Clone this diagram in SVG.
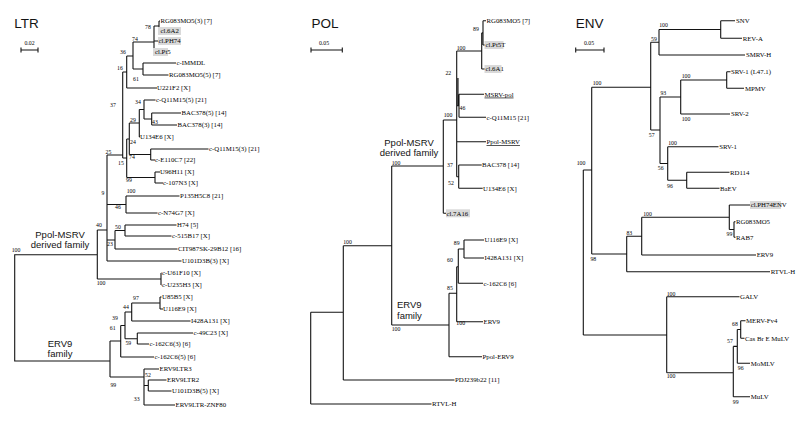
<svg xmlns="http://www.w3.org/2000/svg" width="800" height="423" viewBox="0 0 800 423">
<style>
.br{stroke:#111;stroke-width:1.1;fill:none}
.lf{font-family:"Liberation Serif","Times New Roman",serif;font-size:6.8px;fill:#000}
.bs{font-family:"Liberation Serif","Times New Roman",serif;font-size:5.8px;fill:#000;text-anchor:middle}
.tt{font-family:"Liberation Sans",Arial,sans-serif;font-size:13.5px;fill:#111;text-anchor:middle}
.fam{font-family:"Liberation Sans",Arial,sans-serif;font-size:9.5px;fill:#111;text-anchor:middle}
.hl{fill:#d9d9d9}
.ul{text-decoration:underline}
</style>
<rect width="800" height="423" fill="#fff"/>
<g opacity="0.99">
<g id="connectors">
<!-- LTR -->
<path class="br" d="M21 50H38M21 47.5V52.5M38 47.5V52.5"/>
<path class="br" d="M97.3 254.7H14.7V361H110M97.3 230V279M97.3 230H107M97.3 279H161M107 155V261M107 155H122.7M107 204.5H126M107 240H115M107 261H181.5
M122.7 72V158M122.7 72H126.7M122.7 158H126.7M126.7 56V88M126.7 56H133M126.7 88H157M133 42V69M133 42H154M133 69H143
M154 26V52M154 26H159M154 41H158M154 52H155M159 21V31M159 21H160M159 31H160M143 63V75M143 63H176M143 75H168.5
M126.7 139V177.5M126.7 139H129.3M126.7 177.5H155M129.3 123V154.5M129.3 123H139.3M129.3 154.5H150.7M139.3 109.5V137M139.3 109.5H144M139.3 137H140
M144 100V119M144 100H155.5M144 119H151.7M151.7 113V125M151.7 113H181M151.7 125H177M150.7 149V160M150.7 149H208.5M150.7 160H155
M155 172V183M155 172H160M155 183H163M126 196V213M126 196H179.5M126 213H157.5M115 230.5V249M115 230.5H125M115 249H177.5M125 225V236M125 225H176.5M125 236H171.5
M161 273V285M161 273H161.5M161 285H161.5
M110 341V377M110 341H120.7M110 377H144M120.7 325.5V357M120.7 325.5H125M120.7 357H154M125 312V338.7M125 312H131.7M125 338.7H137.3
M131.7 303V321M131.7 303H160M131.7 321H190.5M160 297V309M160 297H161.5M160 309H163M137.3 333V344M137.3 333H193M137.3 344H149
M144 369V405M144 369H159M144 385.5H148.3M144 405H175M148.3 380V391M148.3 380H166.5M148.3 391H171.5"/>
<!-- POL -->
<path class="br" d="M311 50H342.3M311 47.5V52.5M342.3 47.5V52.5"/>
<path class="br" d="M310.7 312.3V404M310.7 312.3H343.3M310.7 404H431.5M343.3 245.7V380M343.3 245.7H391.7M343.3 380H454.5M391.7 166V325M391.7 166H443.3M391.7 325H449
M443.3 120V213.3M443.3 120H456.7M443.3 213.3H446M456.7 51V176.7M456.7 51H481.7M456.7 105.8H459M456.7 141.7H486M456.7 176.7H458.7M458 78V106
M481.7 32.9V69M481.7 32.9H483M481.7 69H485M483 20.7V45M483 20.7H486M483 45H485M459 94.3V117.3M459 94.3H484M459 117.3H486M458.7 165V188.3M458.7 165H481.7M458.7 188.3H482.7
M449 293.3V356.7M449 293.3H456.7M449 356.7H482M456.7 266.7V321.7M456.7 266.7H458.3M456.7 321.7H483M458.3 249V283.3M458.3 249H464M458.3 283.3H483M464 240V258M464 240H484M464 258H484"/>
<!-- ENV -->
<path class="br" d="M575.7 50H604M575.7 47.5V52.5M604 47.5V52.5"/>
<path class="br" d="M583.3 170V335M583.3 170H591.7M583.3 335H666.7M591.7 87.3V254M591.7 87.3H650.7M591.7 254H626.7M650.7 42.3V130M650.7 42.3H659M650.7 130H660
M659 29.5V55M659 29.5H720.7M659 55H745M720.7 20.7V38.3M720.7 20.7H735M720.7 38.3H742M660 97V163.5M660 97H680.7M660 163.5H667.7
M680.7 80V114M680.7 80H726.7M680.7 114H730M726.7 71.7V88.3M726.7 71.7H730.5M726.7 88.3H744M667.7 146.7V180.3M667.7 146.7H718.5M667.7 180.3H686.7M686.7 172.3V188.3M686.7 172.3H729.5M686.7 188.3H719.5
M626.7 236.2V271.7M626.7 236.2H641.7M626.7 271.7H770M641.7 217.3V255M641.7 217.3H729.3M641.7 255H756M729.3 205V229.5M729.3 205H750M729.3 229.5H734M734 221.7V237.3M734 221.7H735.5M734 237.3H735.5
M666.7 296.7V372.7M666.7 296.7H739.5M666.7 372.7H733.3M733.3 346.4V396.7M733.3 346.4H737.3M733.3 396.7H750M737.3 329.5V363.3M737.3 329.5H740.7M737.3 363.3H750M740.7 320.7V338.3M740.7 320.7H745.5M740.7 338.3H744.5"/>
</g>

<g id="titles">
<text class="tt" x="26.5" y="28">LTR</text>
<text class="bs" x="29.5" y="45">0.02</text>
<text class="tt" x="325" y="28">POL</text>
<text class="bs" x="324" y="45">0.05</text>
<text class="tt" x="589.7" y="28">ENV</text>
<text class="bs" x="589" y="45">0.05</text>
<text class="fam" x="60" y="238">Ppol-MSRV</text>
<text class="fam" x="60" y="248">derived family</text>
<text class="fam" x="60" y="347">ERV9</text>
<text class="fam" x="60" y="357">family</text>
<text class="fam" x="409" y="146">Ppol-MSRV</text>
<text class="fam" x="409" y="156">derived family</text>
<text class="fam" x="397" y="308" style="text-anchor:start">ERV9</text>
<text class="fam" x="397" y="319" style="text-anchor:start">family</text>
</g>

<g id="ltr-leaves">
<g id="ltr-1"><text class="lf" x="160.5" y="23.3">RG083MO5(3) [7]</text></g>
<g id="ltr-2"><rect class="hl" x="158" y="27" width="23" height="8"/><text class="lf" x="160.5" y="33.3">cl.6A2</text></g>
<g id="ltr-3"><rect class="hl" x="158" y="37" width="23" height="8"/><text class="lf" x="158.5" y="43.3">cl.PH74</text></g>
<g id="ltr-4"><rect class="hl" x="153" y="48" width="15" height="8"/><text class="lf" x="155" y="54.3">cl.Pt5</text></g>
<g id="ltr-5"><text class="lf" x="176.5" y="65.3">c-IMMDL</text></g>
<g id="ltr-6"><text class="lf" x="169" y="77.3">RG083MO5(5) [7]</text></g>
<g id="ltr-7"><text class="lf" x="157" y="90.3">U221F2 [X]</text></g>
<g id="ltr-8"><text class="lf" x="156" y="102.3">c-Q11M15(5) [21]</text></g>
<g id="ltr-9"><text class="lf" x="181.5" y="115.3">BAC378(5) [14]</text></g>
<g id="ltr-10"><text class="lf" x="177.5" y="127.3">BAC378(3) [14]</text></g>
<g id="ltr-11"><text class="lf" x="140" y="139.3">U134E6 [X]</text></g>
<g id="ltr-12"><text class="lf" x="209" y="151.3">c-Q11M15(3) [21]</text></g>
<g id="ltr-13"><text class="lf" x="155" y="162.3">c-E110C7 [22]</text></g>
<g id="ltr-14"><text class="lf" x="160" y="174.3">U96H11 [X]</text></g>
<g id="ltr-15"><text class="lf" x="163" y="185.3">c-107N3 [X]</text></g>
<g id="ltr-16"><text class="lf" x="180" y="198.3">P135H5C8 [21]</text></g>
<g id="ltr-17"><text class="lf" x="158" y="215.3">c-N74G7 [X]</text></g>
<g id="ltr-18"><text class="lf" x="177" y="227.3">H74 [5]</text></g>
<g id="ltr-19"><text class="lf" x="172" y="238.3">c-515B17 [X]</text></g>
<g id="ltr-20"><text class="lf" x="178" y="251.3">CIT987SK-29B12 [16]</text></g>
<g id="ltr-21"><text class="lf" x="182" y="263.3">U101D3B(3) [X]</text></g>
<g id="ltr-22"><text class="lf" x="162" y="275.3">c-U61F10 [X]</text></g>
<g id="ltr-23"><text class="lf" x="162" y="287.3">c-U235H3 [X]</text></g>
<g id="ltr-24"><text class="lf" x="162" y="299.3">U85B5 [X]</text></g>
<g id="ltr-25"><text class="lf" x="163" y="311.3">U116E9 [X]</text></g>
<g id="ltr-26"><text class="lf" x="191" y="323.3">I428A131 [X]</text></g>
<g id="ltr-27"><text class="lf" x="193.5" y="335.3">c-49C23 [X]</text></g>
<g id="ltr-28"><text class="lf" x="149.5" y="346.3">c-162C6(3) [6]</text></g>
<g id="ltr-29"><text class="lf" x="154.5" y="359.3">c-162C6(5) [6]</text></g>
<g id="ltr-30"><text class="lf" x="159.5" y="371.3">ERV9LTR3</text></g>
<g id="ltr-31"><text class="lf" x="167" y="382.3">ERV9LTR2</text></g>
<g id="ltr-32"><text class="lf" x="172" y="393.3">U101D3B(5) [X]</text></g>
<g id="ltr-33"><text class="lf" x="175.5" y="407.3">ERV9LTR-ZNF80</text></g>
</g>

<g id="ltr-support">
<text class="bs" x="16" y="252">100</text>
<text class="bs" x="148" y="29">78</text>
<text class="bs" x="135" y="41">74</text>
<text class="bs" x="123" y="54">36</text>
<text class="bs" x="120" y="70">16</text>
<text class="bs" x="136" y="81">61</text>
<text class="bs" x="113" y="107">37</text>
<text class="bs" x="138" y="104">34</text>
<text class="bs" x="133" y="122">29</text>
<text class="bs" x="155" y="124">43</text>
<text class="bs" x="133" y="144">24</text>
<text class="bs" x="132" y="159">74</text>
<text class="bs" x="108.5" y="154">25</text>
<text class="bs" x="121" y="165">15</text>
<text class="bs" x="129" y="182">99</text>
<text class="bs" x="131" y="193">100</text>
<text class="bs" x="103" y="195">9</text>
<text class="bs" x="118" y="209">46</text>
<text class="bs" x="99" y="227">40</text>
<text class="bs" x="118" y="229">50</text>
<text class="bs" x="110" y="246">23</text>
<text class="bs" x="101" y="285">100</text>
<text class="bs" x="136" y="299.5">97</text>
<text class="bs" x="126" y="309">44</text>
<text class="bs" x="115" y="320">39</text>
<text class="bs" x="112.7" y="330">61</text>
<text class="bs" x="128.3" y="344.5">59</text>
<text class="bs" x="148" y="377">52</text>
<text class="bs" x="113.3" y="387">99</text>
<text class="bs" x="136.7" y="401">33</text>
</g>

<g id="pol-leaves">
<g id="pol-1"><text class="lf" x="486.5" y="23">RG083MO5 [7]</text></g>
<g id="pol-2"><rect class="hl" x="484.5" y="41" width="19" height="8"/><text class="lf" x="485.5" y="47.3">cl.Pt5T</text></g>
<g id="pol-3"><rect class="hl" x="484.5" y="65" width="17" height="8"/><text class="lf" x="485.5" y="71.3">cl.6A1</text></g>
<g id="pol-4"><text class="lf ul" x="484.5" y="96.6">MSRV-pol</text></g>
<g id="pol-5"><text class="lf" x="486.5" y="119.6">c-Q11M15 [21]</text></g>
<g id="pol-6"><text class="lf ul" x="486.5" y="144">Ppol-MSRV</text></g>
<g id="pol-7"><text class="lf" x="482" y="167.3">BAC378 [14]</text></g>
<g id="pol-8"><text class="lf" x="483" y="190.6">U134E6 [X]</text></g>
<g id="pol-9"><rect class="hl" x="446" y="209.3" width="24" height="8"/><text class="lf" x="446.5" y="215.6">cl.7A16</text></g>
<g id="pol-10"><text class="lf" x="484.5" y="242.3">U116E9 [X]</text></g>
<g id="pol-11"><text class="lf" x="484.5" y="260.3">I428A131 [X]</text></g>
<g id="pol-12"><text class="lf" x="483.5" y="285.6">c-162C6 [6]</text></g>
<g id="pol-13"><text class="lf" x="483.5" y="324">ERV9</text></g>
<g id="pol-14"><text class="lf" x="482.5" y="359">Ppol-ERV9</text></g>
<g id="pol-15"><text class="lf" x="455" y="382.3">PDJ239b22 [11]</text></g>
<g id="pol-16"><text class="lf" x="432" y="406.3">RTVL-H</text></g>
</g>

<g id="pol-support">
<text class="bs" x="461" y="49.7">100</text>
<text class="bs" x="476" y="31.3">89</text>
<text class="bs" x="448.3" y="74.7">22</text>
<text class="bs" x="462.5" y="110.3">46</text>
<text class="bs" x="448" y="117">100</text>
<text class="bs" x="450" y="167">37</text>
<text class="bs" x="451" y="184.7">52</text>
<text class="bs" x="396" y="164.7">100</text>
<text class="bs" x="347.5" y="243.7">100</text>
<text class="bs" x="456.7" y="245.3">89</text>
<text class="bs" x="450" y="262">60</text>
<text class="bs" x="450" y="290">85</text>
<text class="bs" x="460.7" y="325.3">100</text>
<text class="bs" x="396" y="331">100</text>
</g>

<g id="env-leaves">
<g id="env-1"><text class="lf" x="736" y="23">SNV</text></g>
<g id="env-2"><text class="lf" x="742.7" y="40.6">REV-A</text></g>
<g id="env-3"><text class="lf" x="746" y="57.3">SMRV-H</text></g>
<g id="env-4"><text class="lf" x="731" y="74">SRV-1 (L47.1)</text></g>
<g id="env-5"><text class="lf" x="745" y="90.6">MPMV</text></g>
<g id="env-6"><text class="lf" x="731" y="116.3">SRV-2</text></g>
<g id="env-7"><text class="lf" x="719.3" y="149">SRV-1</text></g>
<g id="env-8"><text class="lf" x="730" y="174.6">RD114</text></g>
<g id="env-9"><text class="lf" x="720" y="190.6">BaEV</text></g>
<g id="env-10"><rect class="hl" x="750" y="201" width="31" height="8"/><text class="lf" x="750.7" y="207.3">cl.PH74ENV</text></g>
<g id="env-11"><text class="lf" x="736" y="224">RG083MO5</text></g>
<g id="env-12"><text class="lf" x="736" y="239.6">RAB7</text></g>
<g id="env-13"><text class="lf" x="756.7" y="257.3">ERV9</text></g>
<g id="env-14"><text class="lf" x="770.7" y="274">RTVL-H</text></g>
<g id="env-15"><text class="lf" x="740" y="299">GALV</text></g>
<g id="env-16"><text class="lf" x="746" y="323">MERV-Fv4</text></g>
<g id="env-17"><text class="lf" x="745" y="340.6">Cas Br E MuLV</text></g>
<g id="env-18"><text class="lf" x="750.7" y="365.6">MoMLV</text></g>
<g id="env-19"><text class="lf" x="750.7" y="399">MuLV</text></g>
</g>

<g id="env-support">
<text class="bs" x="663.5" y="27">100</text>
<text class="bs" x="654" y="41.3">59</text>
<text class="bs" x="597" y="85.3">100</text>
<text class="bs" x="686" y="78">100</text>
<text class="bs" x="663.3" y="95.3">93</text>
<text class="bs" x="686" y="120.5">100</text>
<text class="bs" x="651.7" y="137">57</text>
<text class="bs" x="672.5" y="145.3">100</text>
<text class="bs" x="660.7" y="170.3">56</text>
<text class="bs" x="670" y="187.7">96</text>
<text class="bs" x="581" y="165.3">100</text>
<text class="bs" x="647.5" y="216">100</text>
<text class="bs" x="729.5" y="236">99</text>
<text class="bs" x="629.3" y="234.7">83</text>
<text class="bs" x="593.3" y="261.3">98</text>
<text class="bs" x="671" y="296">100</text>
<text class="bs" x="671" y="378">100</text>
<text class="bs" x="735" y="326">68</text>
<text class="bs" x="730" y="342.7">57</text>
<text class="bs" x="740.7" y="370.3">96</text>
<text class="bs" x="735.7" y="403.7">99</text>
</g>
</g>
</svg>
